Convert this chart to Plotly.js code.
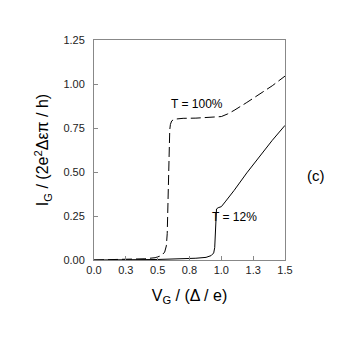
<!DOCTYPE html>
<html>
<head>
<meta charset="utf-8">
<script src="https://cdn.plot.ly/plotly-3.0.1.min.js"></script>
<style>
  html, body { margin: 0; padding: 0; background: #fff; }
  #chart { width: 354px; height: 354px; }
</style>
</head>
<body>
<div id="chart"></div>
<script>
// T = 100% (dashed)
var vG100 = [0.0, 0.2, 0.4, 0.48, 0.53, 0.555, 0.568, 0.575, 0.58, 0.585, 0.59, 0.595, 0.60, 0.61, 0.63, 0.7, 0.8, 0.9, 1.0, 1.05, 1.1, 1.2, 1.3, 1.4, 1.5];
var iG100 = [0.0, 0.002, 0.007, 0.013, 0.025, 0.045, 0.08, 0.15, 0.3, 0.5, 0.65, 0.74, 0.77, 0.79, 0.80, 0.805, 0.806, 0.81, 0.815, 0.83, 0.85, 0.895, 0.94, 0.99, 1.045];
// T = 12% (solid)
var vG12 = [0.0, 0.5, 0.8, 0.88, 0.92, 0.94, 0.948, 0.953, 0.957, 0.962, 0.975, 1.0, 1.03, 1.1, 1.2, 1.3, 1.4, 1.5];
var iG12 = [0.0, 0.003, 0.01, 0.015, 0.025, 0.04, 0.07, 0.15, 0.25, 0.29, 0.297, 0.303, 0.33, 0.395, 0.495, 0.59, 0.68, 0.765];

var xTicks = [0, 0.25, 0.5, 0.75, 1.0, 1.25, 1.5];
var xTickText = ["0.0", "0.3", "0.5", "0.8", "1.0", "1.3", "1.5"];
var yTicks = [0, 0.25, 0.5, 0.75, 1.0, 1.25];

var fnt = "Liberation Sans, Arial, sans-serif";

var traces = [
  {
    x: vG100, y: iG100, mode: 'lines', line: {color: '#000', width: 1, dash: '10px,4px'},
    hoverinfo: 'none', showlegend: false
  },
  {
    x: vG12, y: iG12, mode: 'lines', line: {color: '#000', width: 1},
    hoverinfo: 'none', showlegend: false
  }
];

var axisStyle = {
  showline: true, linecolor: '#888', linewidth: 1, mirror: true,
  ticks: 'inside', ticklen: 4, tickcolor: '#888',
  showgrid: false, zeroline: false,
  tickfont: {family: fnt, size: 11, color: '#222'}
};

var layout = {
  width: 354, height: 354,
  margin: {l: 94, r: 69, t: 40, b: 94},
  paper_bgcolor: '#fff', plot_bgcolor: '#fff',
  xaxis: Object.assign({}, axisStyle, {
    range: [0, 1.5], tickvals: xTicks, ticktext: xTickText,
    title: {text: 'V<sub>G</sub> / (Δ / e)', font: {family: fnt, size: 16, color: '#000'}, standoff: 14}
  }),
  yaxis: Object.assign({}, axisStyle, {
    range: [0, 1.25], tickvals: yTicks, tickformat: '.2f', ticklabelstandoff: 6,
    title: {text: 'I<sub>G</sub> / (2e<sup>2</sup>Δεπ / h)', font: {family: fnt, size: 16, color: '#000'}, standoff: 10}
  }),
  annotations: [
    {x: 0.81, y: 0.885, xref: 'x', yref: 'y', text: 'T = 100%', showarrow: false,
     font: {family: fnt, size: 12, color: '#000'}},
    {x: 1.1, y: 0.245, xref: 'x', yref: 'y', text: 'T = 12%', showarrow: false,
     font: {family: fnt, size: 12, color: '#000'}},
    {x: 1.22, y: 0.385, xref: 'paper', yref: 'paper', text: '(c)', showarrow: false,
     font: {family: fnt, size: 15, color: '#000'}}
  ]
};

Plotly.newPlot('chart', traces, layout, {staticPlot: true, displayModeBar: false});
</script>
</body>
</html>
